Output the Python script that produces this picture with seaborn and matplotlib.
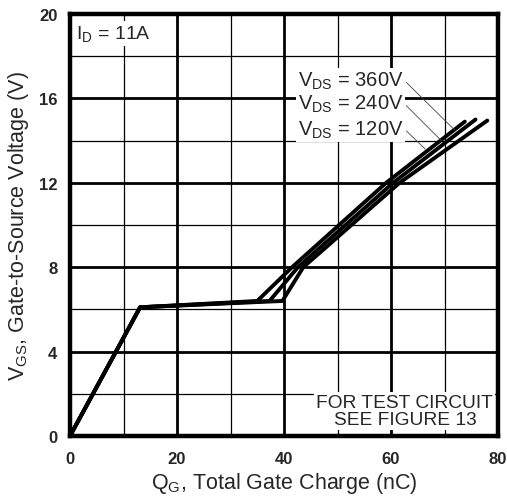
import matplotlib
matplotlib.use("Agg")
import matplotlib.pyplot as plt
import seaborn as sns
import pandas as pd

# Data
vds_labels = ["120V", "240V", "360V"]
qg_120 = [0, 13.1, 35.0, 41.5, 59.1, 73.8]
vgs_120 = [0, 6.1, 6.4, 8.0, 12.0, 14.9]
qg_240 = [0, 13.1, 37.3, 42.6, 60.4, 75.8]
vgs_240 = [0, 6.1, 6.4, 8.0, 12.0, 15.0]
qg_360 = [0, 13.1, 39.7, 43.6, 61.6, 78.0]
vgs_360 = [0, 6.1, 6.4, 8.0, 12.0, 14.95]

x_ticks = [0, 20, 40, 60, 80]
x_minor = [10, 30, 50, 70]
y_ticks = [0, 4, 8, 12, 16, 20]
y_minor = [2, 6, 10, 14, 18]

frames = []
for lab, q, v in zip(vds_labels, [qg_120, qg_240, qg_360], [vgs_120, vgs_240, vgs_360]):
    frames.append(pd.DataFrame({"qg": q, "vgs": v, "vds": lab}))
df = pd.concat(frames, ignore_index=True)

sns.set_style("white")
plt.rcParams["font.family"] = ["Liberation Sans", "DejaVu Sans"]

fig = plt.figure(figsize=(5.07, 5.02), dpi=100)
ax = fig.add_axes([70/507, 1-437/502, (498-70)/507, (437-15)/502])

sns.lineplot(data=df, x="qg", y="vgs", hue="vds", units="vds", estimator=None,
             sort=False, palette=["black"]*3, linewidth=2.8, legend=False, ax=ax,
             zorder=5)

ax.set_xlim(0, 80)
ax.set_ylim(0, 20)
ax.set_xticks(x_ticks)
ax.set_xticks(x_minor, minor=True)
ax.set_yticks(y_ticks)
ax.set_yticks(y_minor, minor=True)
ax.grid(which="major", color="black", linewidth=2.0, zorder=1)
ax.grid(which="minor", color="black", linewidth=0.9, zorder=1)
ax.set_axisbelow(True)
for s in ax.spines.values():
    s.set_linewidth(3.2)
    s.set_color("black")
    s.set_visible(True)
ax.tick_params(which="both", length=0)
ax.tick_params(axis="x", pad=11, labelsize=12)
ax.tick_params(axis="y", pad=9, labelsize=12)
for t in ax.get_xticklabels() + ax.get_yticklabels():
    t.set_fontweight("bold")

ax.set_xlabel("Q$_\\mathregular{G}$, Total Gate Charge (nC)", fontsize=15.5, labelpad=3)
ax.set_ylabel("V$_\\mathregular{GS}$, Gate-to-Source Voltage (V)", fontsize=15.5, labelpad=6)

box = dict(facecolor="white", edgecolor="none", pad=1.5)
ax.text(1.2, 19.55, "I$_\\mathregular{D}$ = 11A", fontsize=14, va="top", ha="left",
        bbox=box, zorder=6)
ax.text(62.6, 1.2, "FOR TEST CIRCUIT\nSEE FIGURE 13", fontsize=13.8, ha="center",
        va="center", linespacing=1.0, bbox=box, zorder=6)

labels = [("V$_\\mathregular{DS}$ = 360V", 16.85, (72.3, 14.4)),
          ("V$_\\mathregular{DS}$ = 240V", 15.75, (69.8, 13.9)),
          ("V$_\\mathregular{DS}$ = 120V", 14.55, (66.8, 13.5))]
for txt, y, tip in labels:
    ax.text(62.3, y, txt, fontsize=14.5, ha="right", va="center", bbox=box, zorder=6)
    ax.annotate("", xy=tip, xytext=(62.5, y),
                arrowprops=dict(arrowstyle="-", color="#444444", lw=0.6), zorder=6)

fig.savefig("out.png", dpi=100)
